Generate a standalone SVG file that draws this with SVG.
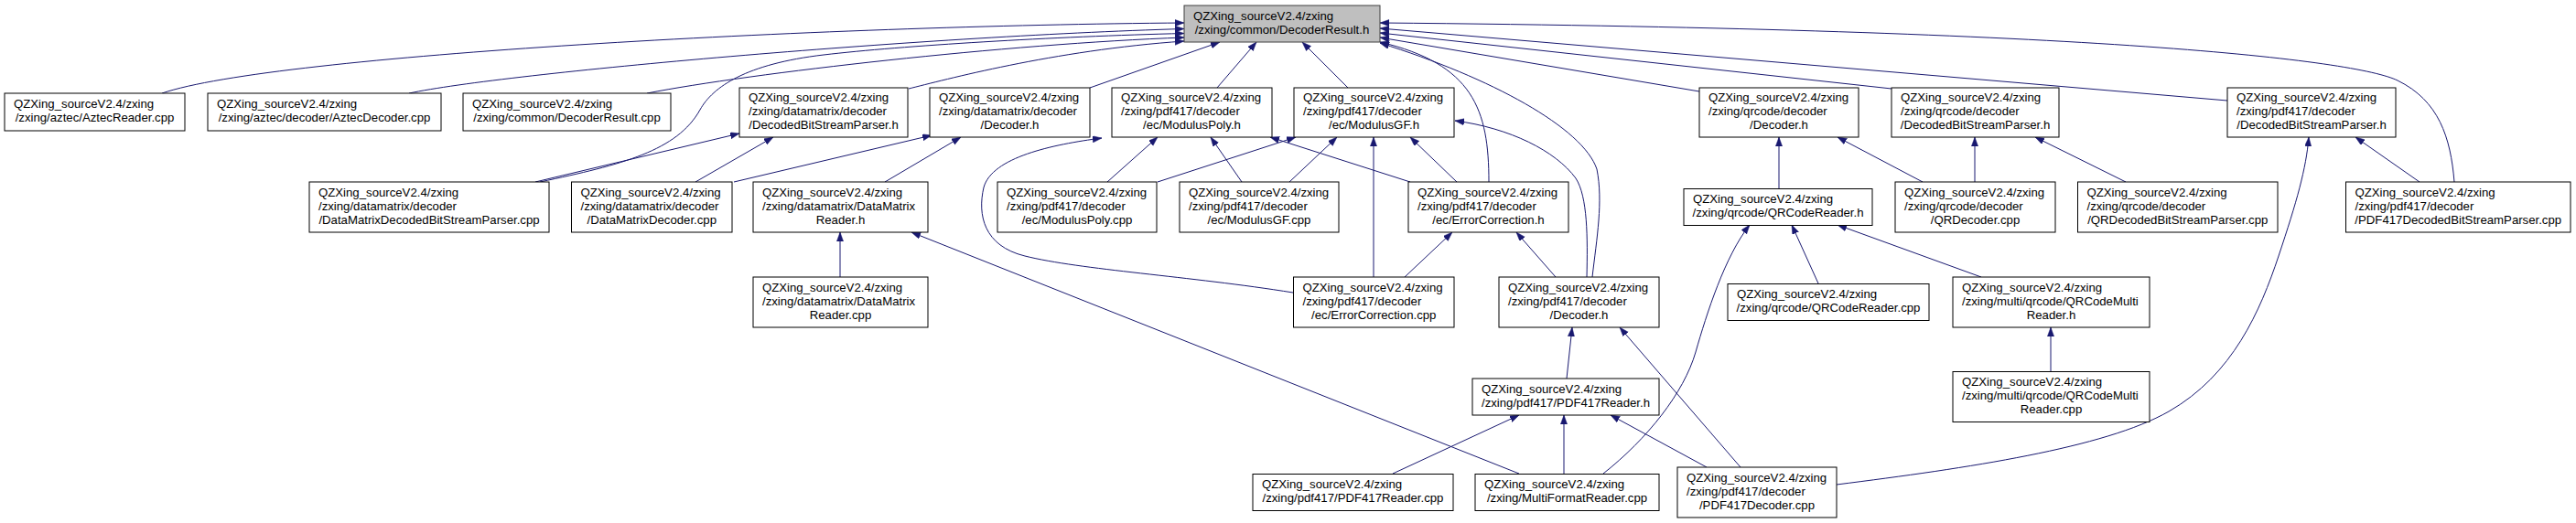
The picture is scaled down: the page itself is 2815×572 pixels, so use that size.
<svg xmlns="http://www.w3.org/2000/svg" width="2815" height="572" viewBox="0 0 2815 572">
<defs>
<marker id="arr" markerUnits="userSpaceOnUse" markerWidth="10" markerHeight="8" refX="10" refY="3.6" orient="auto">
<path d="M0,0 L10,3.6 L0,7.2 z" fill="#191970" stroke="#191970" stroke-width="0.5"/>
</marker>
<style>
rect{fill:#ffffff;stroke:#000000;stroke-width:1}
.root rect{fill:#bfbfbf;stroke:#404040}
text{font-family:"Liberation Sans",Arial,Helvetica,sans-serif;font-size:13.2px;fill:#000000}
.c{text-anchor:middle}
#edges path{fill:none;stroke:#191970;stroke-width:1;marker-end:url(#arr)}
</style>
</defs>
<rect x="0" y="0" width="2815" height="572" style="fill:#ffffff;stroke:none"/>
<g id="edges">
<path d="M177,102 C300,60 900,28 1294,25"/>
<path d="M447,102 C550,80 1000,40 1294,31.5"/>
<path d="M707,102 C820,80 1100,48 1294,41"/>
<path d="M590,199 C680,180 740,165 765,120 C779,95 815,70 900,60 C985,50 1150,40 1294,36.5"/>
<path d="M993,97 C1030,88 1150,55 1294,45"/>
<path d="M1191,96 L1333,46"/>
<path d="M1330,96 L1373,46"/>
<path d="M1473,96 L1423,46"/>
<path d="M2682,199 C2678,150 2665,110 2620,88 C2575,66 2300,32 1508,25"/>
<path d="M2434,110 L1508,31"/>
<path d="M2067,97 L1508,36"/>
<path d="M1857,100 L1508,41"/>
<path d="M1627,199 C1627,120 1610,70 1508,46"/>
<path d="M1740,303 C1745,260 1752,220 1745,185 C1730,140 1630,85 1508,47"/>
<path d="M1734,303 C1735,260 1735,215 1722,195 C1700,165 1650,140 1590,132"/>
<path d="M1413,320 C1300,302 1180,295 1120,280 C1075,269 1068,235 1075,205 C1084,172 1150,158 1204,151"/>
<path d="M1210,199 L1265,150"/>
<path d="M1357,199 L1323,150"/>
<path d="M1541,199 L1388,150"/>
<path d="M1265,199 L1416,150"/>
<path d="M1409,199 L1461,150"/>
<path d="M1501,303 L1501,150"/>
<path d="M1592,199 L1541,150"/>
<path d="M1535,303 L1587,254"/>
<path d="M1700,303 L1657,254"/>
<path d="M585,199 L808,146"/>
<path d="M760,199 L845,150"/>
<path d="M802,199 L1018,148"/>
<path d="M967,199 L1050,150"/>
<path d="M918,303 L918,254"/>
<path d="M1660,518 L996,254"/>
<path d="M1712,414 L1718,358"/>
<path d="M1902,511 L1770,358"/>
<path d="M1522,518 L1660,454"/>
<path d="M1709,518 L1709,454"/>
<path d="M1865,511 L1760,454"/>
<path d="M1752,518 C1800,480 1840,430 1853,385 C1865,343 1885,280 1912,246"/>
<path d="M1987,310 L1958,246"/>
<path d="M2165,303 L2008,246"/>
<path d="M2241,406 L2241,358"/>
<path d="M1944,206 L1944,150"/>
<path d="M2101,199 L2008,150"/>
<path d="M2158,199 L2158,150"/>
<path d="M2323,199 L2224,150"/>
<path d="M2644,199 L2574,150"/>
<path d="M2007,530 C2150,512 2300,490 2370,450 C2440,410 2470,340 2490,280 C2510,220 2520,185 2523,150"/>
</g>
<g id="n0" class="root"><rect x="1294" y="6" width="214" height="40"/><text x="1304" y="21.5">QZXing_sourceV2.4/zxing</text><text class="c" x="1401" y="36.5">/zxing/common/DecoderResult.h</text></g>
<g id="n1"><rect x="5" y="102" width="197" height="41"/><text x="15" y="118">QZXing_sourceV2.4/zxing</text><text class="c" x="103.5" y="133">/zxing/aztec/AztecReader.cpp</text></g>
<g id="n2"><rect x="227" y="102" width="255" height="41"/><text x="237" y="118">QZXing_sourceV2.4/zxing</text><text class="c" x="354.5" y="133">/zxing/aztec/decoder/AztecDecoder.cpp</text></g>
<g id="n3"><rect x="506" y="102" width="227" height="41"/><text x="516" y="118">QZXing_sourceV2.4/zxing</text><text class="c" x="619.5" y="133">/zxing/common/DecoderResult.cpp</text></g>
<g id="n4"><rect x="808" y="96" width="184" height="54"/><text x="818" y="111">QZXing_sourceV2.4/zxing</text><text x="818" y="126">/zxing/datamatrix/decoder</text><text class="c" x="900" y="141">/DecodedBitStreamParser.h</text></g>
<g id="n5"><rect x="1016" y="96" width="175" height="54"/><text x="1026" y="111">QZXing_sourceV2.4/zxing</text><text x="1026" y="126">/zxing/datamatrix/decoder</text><text class="c" x="1103.5" y="141">/Decoder.h</text></g>
<g id="n6"><rect x="1215" y="96" width="175" height="54"/><text x="1225" y="111">QZXing_sourceV2.4/zxing</text><text x="1225" y="126">/zxing/pdf417/decoder</text><text class="c" x="1302.5" y="141">/ec/ModulusPoly.h</text></g>
<g id="n7"><rect x="1414" y="96" width="175" height="54"/><text x="1424" y="111">QZXing_sourceV2.4/zxing</text><text x="1424" y="126">/zxing/pdf417/decoder</text><text class="c" x="1501.5" y="141">/ec/ModulusGF.h</text></g>
<g id="n8"><rect x="1857" y="96" width="174" height="54"/><text x="1867" y="111">QZXing_sourceV2.4/zxing</text><text x="1867" y="126">/zxing/qrcode/decoder</text><text class="c" x="1944" y="141">/Decoder.h</text></g>
<g id="n9"><rect x="2067" y="96" width="183" height="54"/><text x="2077" y="111">QZXing_sourceV2.4/zxing</text><text x="2077" y="126">/zxing/qrcode/decoder</text><text class="c" x="2158.5" y="141">/DecodedBitStreamParser.h</text></g>
<g id="n10"><rect x="2434" y="96" width="184" height="54"/><text x="2444" y="111">QZXing_sourceV2.4/zxing</text><text x="2444" y="126">/zxing/pdf417/decoder</text><text class="c" x="2526" y="141">/DecodedBitStreamParser.h</text></g>
<g id="n11"><rect x="338" y="199" width="262" height="55"/><text x="348" y="214.5">QZXing_sourceV2.4/zxing</text><text x="348" y="229.5">/zxing/datamatrix/decoder</text><text class="c" x="469" y="244.5">/DataMatrixDecodedBitStreamParser.cpp</text></g>
<g id="n12"><rect x="624.5" y="199" width="175.5" height="55"/><text x="634.5" y="214.5">QZXing_sourceV2.4/zxing</text><text x="634.5" y="229.5">/zxing/datamatrix/decoder</text><text class="c" x="712.25" y="244.5">/DataMatrixDecoder.cpp</text></g>
<g id="n13"><rect x="823" y="199" width="191" height="55"/><text x="833" y="214.5">QZXing_sourceV2.4/zxing</text><text x="833" y="229.5">/zxing/datamatrix/DataMatrix</text><text class="c" x="918.5" y="244.5">Reader.h</text></g>
<g id="n14"><rect x="1090" y="199" width="174" height="55"/><text x="1100" y="214.5">QZXing_sourceV2.4/zxing</text><text x="1100" y="229.5">/zxing/pdf417/decoder</text><text class="c" x="1177" y="244.5">/ec/ModulusPoly.cpp</text></g>
<g id="n15"><rect x="1289" y="199" width="174" height="55"/><text x="1299" y="214.5">QZXing_sourceV2.4/zxing</text><text x="1299" y="229.5">/zxing/pdf417/decoder</text><text class="c" x="1376" y="244.5">/ec/ModulusGF.cpp</text></g>
<g id="n16"><rect x="1539" y="199" width="175" height="55"/><text x="1549" y="214.5">QZXing_sourceV2.4/zxing</text><text x="1549" y="229.5">/zxing/pdf417/decoder</text><text class="c" x="1626.5" y="244.5">/ec/ErrorCorrection.h</text></g>
<g id="n17"><rect x="1840" y="206.5" width="206" height="40"/><text x="1850" y="222">QZXing_sourceV2.4/zxing</text><text class="c" x="1943" y="237">/zxing/qrcode/QRCodeReader.h</text></g>
<g id="n18"><rect x="2071" y="199" width="175" height="55"/><text x="2081" y="214.5">QZXing_sourceV2.4/zxing</text><text x="2081" y="229.5">/zxing/qrcode/decoder</text><text class="c" x="2158.5" y="244.5">/QRDecoder.cpp</text></g>
<g id="n19"><rect x="2270.5" y="199" width="218.5" height="55"/><text x="2280.5" y="214.5">QZXing_sourceV2.4/zxing</text><text x="2280.5" y="229.5">/zxing/qrcode/decoder</text><text class="c" x="2379.75" y="244.5">/QRDecodedBitStreamParser.cpp</text></g>
<g id="n20"><rect x="2563.5" y="199" width="245.5" height="55"/><text x="2573.5" y="214.5">QZXing_sourceV2.4/zxing</text><text x="2573.5" y="229.5">/zxing/pdf417/decoder</text><text class="c" x="2686.25" y="244.5">/PDF417DecodedBitStreamParser.cpp</text></g>
<g id="n21"><rect x="823" y="303" width="191" height="55"/><text x="833" y="318.5">QZXing_sourceV2.4/zxing</text><text x="833" y="333.5">/zxing/datamatrix/DataMatrix</text><text class="c" x="918.5" y="348.5">Reader.cpp</text></g>
<g id="n22"><rect x="1413.5" y="303" width="175.5" height="55"/><text x="1423.5" y="318.5">QZXing_sourceV2.4/zxing</text><text x="1423.5" y="333.5">/zxing/pdf417/decoder</text><text class="c" x="1501.25" y="348.5">/ec/ErrorCorrection.cpp</text></g>
<g id="n23"><rect x="1638" y="303" width="175" height="55"/><text x="1648" y="318.5">QZXing_sourceV2.4/zxing</text><text x="1648" y="333.5">/zxing/pdf417/decoder</text><text class="c" x="1725.5" y="348.5">/Decoder.h</text></g>
<g id="n24"><rect x="1888" y="310.5" width="220" height="40"/><text x="1898" y="326">QZXing_sourceV2.4/zxing</text><text class="c" x="1998" y="341">/zxing/qrcode/QRCodeReader.cpp</text></g>
<g id="n25"><rect x="2134" y="303" width="215" height="55"/><text x="2144" y="318.5">QZXing_sourceV2.4/zxing</text><text x="2144" y="333.5">/zxing/multi/qrcode/QRCodeMulti</text><text class="c" x="2241.5" y="348.5">Reader.h</text></g>
<g id="n26"><rect x="1609" y="414" width="204" height="40"/><text x="1619" y="429.5">QZXing_sourceV2.4/zxing</text><text class="c" x="1711" y="444.5">/zxing/pdf417/PDF417Reader.h</text></g>
<g id="n27"><rect x="2134" y="406.5" width="215" height="55"/><text x="2144" y="422">QZXing_sourceV2.4/zxing</text><text x="2144" y="437">/zxing/multi/qrcode/QRCodeMulti</text><text class="c" x="2241.5" y="452">Reader.cpp</text></g>
<g id="n28"><rect x="1369" y="518.5" width="219" height="40"/><text x="1379" y="534">QZXing_sourceV2.4/zxing</text><text class="c" x="1478.5" y="549">/zxing/pdf417/PDF417Reader.cpp</text></g>
<g id="n29"><rect x="1612" y="518.5" width="201" height="40"/><text x="1622" y="534">QZXing_sourceV2.4/zxing</text><text class="c" x="1712.5" y="549">/zxing/MultiFormatReader.cpp</text></g>
<g id="n30"><rect x="1833" y="511" width="174" height="55"/><text x="1843" y="526.5">QZXing_sourceV2.4/zxing</text><text x="1843" y="541.5">/zxing/pdf417/decoder</text><text class="c" x="1920" y="556.5">/PDF417Decoder.cpp</text></g>
</svg>
